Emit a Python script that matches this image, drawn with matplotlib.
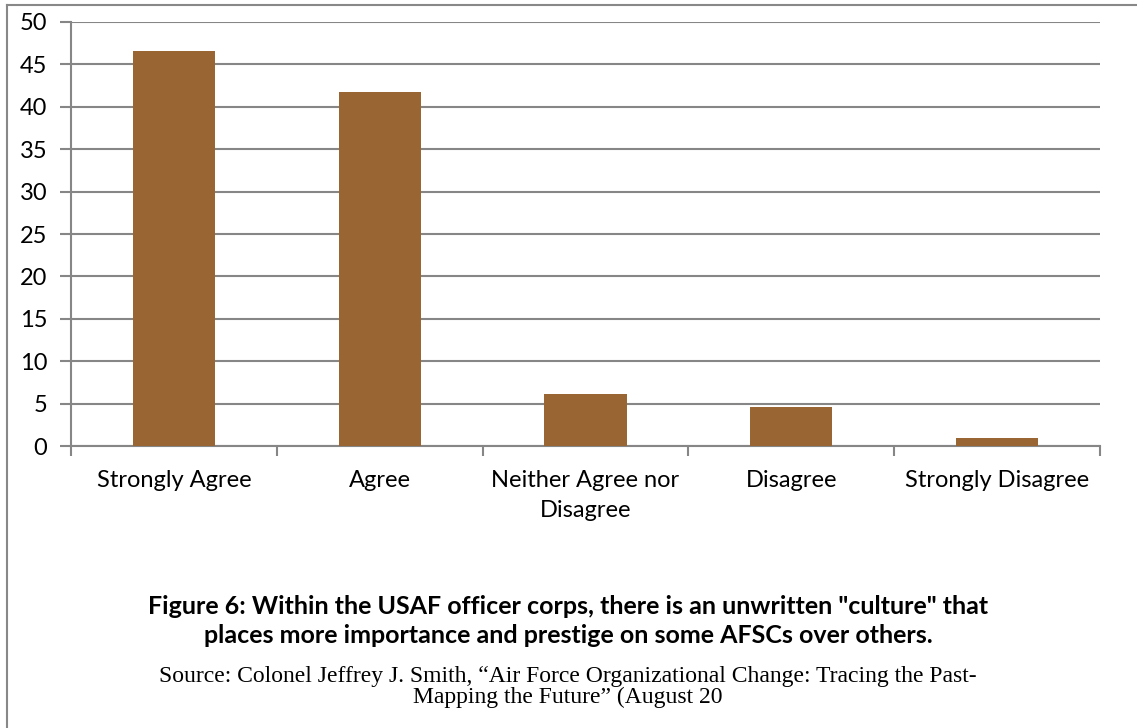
from matplotlib import pyplot as plt
from matplotlib.lines import Line2D
import numpy as np

categories = ["Strongly Agree", "Agree", "Neither Agree nor\nDisagree", "Disagree", "Strongly Disagree"]
values = [46.6, 41.8, 6.1, 4.6, 1.0]
yticks = [0, 5, 10, 15, 20, 25, 30, 35, 40, 45, 50]

title = ('Figure 6: Within the USAF officer corps, there is an unwritten "culture" that\n'
         'places more importance and prestige on some AFSCs over others.')
source = ('Source: Colonel Jeffrey J. Smith, \u201cAir Force Organizational Change: Tracing the Past-\n'
          'Mapping the Future\u201d (August 20')

W, H = 1137, 728
fig = plt.figure(figsize=(W / 100, H / 100), dpi=100)
ax = fig.add_axes([71 / W, 1 - 446 / H, (1100 - 71) / W, (446 - 22) / H])

grid_c = '#868686'
x = np.arange(len(categories))
ax.bar(x, values, width=0.4, color='#996633', zorder=3)
ax.set_xlim(-0.5, len(categories) - 0.5)
ax.set_ylim(0, 50)
ax.set_yticks(yticks)
ax.yaxis.grid(True, color=grid_c, linewidth=1.5, zorder=0)
ax.set_xticks(x)
ax.set_xticklabels(categories, fontsize=17, fontfamily='Lato', linespacing=1.55)
ax.set_xticks(np.arange(len(categories) + 1) - 0.5, minor=True)
ax.tick_params(axis='x', which='major', length=0, pad=17)
ax.tick_params(axis='x', which='minor', length=7, width=1.5, color=grid_c, direction='out')
ax.tick_params(axis='y', length=8, width=1.5, color=grid_c, labelsize=17, pad=9)
for lab in ax.get_yticklabels():
    lab.set_fontfamily('Lato')
for s in ['top', 'right']:
    ax.spines[s].set_visible(False)
for s in ['left', 'bottom']:
    ax.spines[s].set_color(grid_c)
    ax.spines[s].set_linewidth(1.5)

fig.text(568 / W, 1 - 621 / H, title, ha='center', va='center', fontsize=18,
         fontweight='bold', fontfamily='Lato', linespacing=1.3)
fig.text(568 / W, 1 - 687 / H, source, ha='center', va='center', fontsize=17,
         fontfamily='Liberation Serif', linespacing=1.05)

# page border
fig.add_artist(Line2D([7 / W, 7 / W], [0, 1 - 5 / H], color='#888888', linewidth=1.5))
fig.add_artist(Line2D([7 / W, 1], [1 - 5 / H, 1 - 5 / H], color='#888888', linewidth=1.5))

plt.savefig('out.png', dpi=100)
